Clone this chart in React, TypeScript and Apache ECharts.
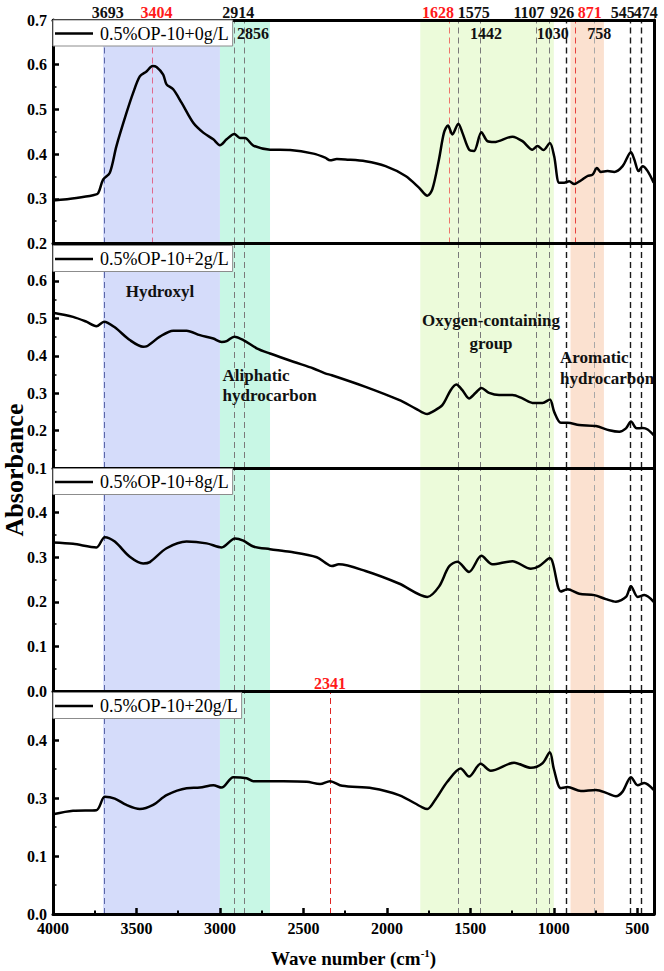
import React, { useEffect, useRef } from "react";
import * as echarts from "echarts";

// ---------------- data ----------------
const seriesNames = ["0.5%OP-10+0g/L", "0.5%OP-10+2g/L", "0.5%OP-10+8g/L", "0.5%OP-10+20g/L"];

const wn0 = [4000, 3860, 3760, 3730, 3700, 3660, 3620, 3560, 3520, 3480, 3440, 3404, 3380, 3340, 3320, 3280, 3230, 3160, 3100, 3040, 3000, 2960, 2914, 2880, 2850, 2800, 2700, 2580, 2440, 2370, 2340, 2300, 2248, 2128, 2008, 1888, 1808, 1758, 1728, 1688, 1658, 1634, 1608, 1572, 1548, 1508, 1478, 1434, 1398, 1358, 1248, 1188, 1128, 1098, 1062, 1024, 998, 968, 938, 908, 878, 838, 798, 768, 742, 718, 678, 638, 588, 538, 518, 492, 468, 438, 402];
const abs0 = [0.296, 0.302, 0.308, 0.312, 0.343, 0.358, 0.418, 0.492, 0.537, 0.574, 0.585, 0.597, 0.595, 0.578, 0.556, 0.545, 0.515, 0.470, 0.448, 0.433, 0.420, 0.433, 0.445, 0.436, 0.436, 0.419, 0.410, 0.409, 0.401, 0.392, 0.386, 0.389, 0.388, 0.384, 0.373, 0.351, 0.325, 0.307, 0.321, 0.388, 0.448, 0.464, 0.444, 0.468, 0.448, 0.410, 0.407, 0.449, 0.429, 0.427, 0.439, 0.429, 0.410, 0.418, 0.409, 0.425, 0.395, 0.336, 0.336, 0.339, 0.333, 0.341, 0.351, 0.354, 0.369, 0.360, 0.362, 0.360, 0.373, 0.404, 0.388, 0.362, 0.373, 0.362, 0.336];

const wn1 = [4000, 3880, 3800, 3740, 3694, 3630, 3540, 3460, 3440, 3360, 3280, 3200, 3120, 3040, 2990, 2960, 2914, 2860, 2780, 2700, 2560, 2440, 2370, 2330, 2128, 1928, 1828, 1758, 1728, 1668, 1618, 1584, 1548, 1508, 1468, 1434, 1388, 1328, 1248, 1188, 1128, 1068, 1024, 998, 958, 918, 848, 748, 668, 608, 568, 538, 504, 468, 438, 402];
const abs1 = [0.515, 0.504, 0.491, 0.479, 0.491, 0.476, 0.442, 0.424, 0.425, 0.451, 0.467, 0.467, 0.455, 0.446, 0.437, 0.439, 0.451, 0.442, 0.420, 0.406, 0.384, 0.366, 0.353, 0.348, 0.317, 0.282, 0.259, 0.244, 0.250, 0.268, 0.308, 0.323, 0.308, 0.286, 0.301, 0.314, 0.301, 0.295, 0.295, 0.286, 0.274, 0.274, 0.283, 0.250, 0.221, 0.221, 0.215, 0.212, 0.201, 0.197, 0.206, 0.224, 0.206, 0.207, 0.203, 0.188];

const wn2 = [4000, 3880, 3740, 3690, 3630, 3540, 3460, 3420, 3320, 3200, 3080, 2990, 2910, 2860, 2800, 2700, 2580, 2420, 2370, 2330, 2288, 2128, 1928, 1758, 1688, 1628, 1578, 1508, 1434, 1368, 1248, 1138, 1088, 1024, 958, 918, 848, 758, 688, 628, 568, 538, 498, 458, 402];
const abs2 = [0.333, 0.330, 0.322, 0.345, 0.335, 0.301, 0.286, 0.289, 0.320, 0.335, 0.331, 0.322, 0.342, 0.337, 0.324, 0.318, 0.312, 0.300, 0.288, 0.280, 0.284, 0.269, 0.241, 0.211, 0.234, 0.279, 0.290, 0.267, 0.303, 0.284, 0.291, 0.274, 0.280, 0.298, 0.223, 0.228, 0.218, 0.215, 0.206, 0.200, 0.211, 0.235, 0.211, 0.215, 0.200];

const wn3 = [4000, 3880, 3740, 3690, 3630, 3560, 3480, 3400, 3320, 3200, 3120, 3040, 2990, 2920, 2840, 2800, 2620, 2480, 2400, 2341, 2268, 2088, 1928, 1788, 1758, 1708, 1638, 1558, 1508, 1438, 1378, 1238, 1138, 1068, 1024, 1000, 958, 918, 838, 748, 678, 628, 588, 538, 498, 458, 402];
const abs3 = [0.272, 0.278, 0.279, 0.302, 0.299, 0.288, 0.281, 0.288, 0.305, 0.317, 0.318, 0.322, 0.318, 0.336, 0.334, 0.329, 0.329, 0.328, 0.324, 0.329, 0.321, 0.317, 0.305, 0.284, 0.281, 0.298, 0.328, 0.351, 0.337, 0.359, 0.347, 0.361, 0.352, 0.360, 0.379, 0.350, 0.317, 0.319, 0.312, 0.314, 0.308, 0.303, 0.311, 0.336, 0.322, 0.326, 0.314];

const wavenumbers = [wn0, wn1, wn2, wn3];
const absorbances = [abs0, abs1, abs2, abs3];

// y ranges of the four panels
const yMins = [0.2, 0.1, 0.0, 0.1];
const yMaxs = [0.7, 0.7, 0.5, 0.4845];
// panel 4 has a broken axis in the original: its tick labels
const panel4TickText: Record<number, string> = { 1: "0.0", 2: "0.1", 3: "0.3", 4: "0.4" };

// x ticks
const xTickValues = [500, 1000, 1500, 2000, 2500, 3000, 3500, 4000];
const xMinorTickValues = [750, 1250, 1750, 2250, 2750, 3250, 3750];

// functional group bands (wavenumber ranges)
const bandFrom = [3700, 3000, 1800, 900];
const bandTo = [3000, 2700, 1000, 700];
const bandColors = ["#d5dcfa", "#c8f7e5", "#ecfbda", "#fbe1d0"];

// characteristic peaks
const allPanelPeaks = [3693, 2914, 2856, 1575, 1442, 1107, 1030, 926, 758, 545, 474];
const firstPanelPeaks = [3404, 1628, 871];
const lastPanelPeaks = [2341];
const redPeaks = [3404, 1628, 871, 2341];
const topRowLabels = [3693, 3404, 2914, 1628, 1575, 1107, 926, 871, 545, 474];
const secondRowLabels = [2856, 1442, 1030, 758];

// ---------------- layout / styles ----------------
const SERIF = '"Liberation Serif", "Times New Roman", serif';
const GRID_TOPS = [20, 243.5, 468, 691];
const GRID_HEIGHTS = [223.5, 224.5, 223, 223];
const LEGEND_TOPS = [20, 245.5, 468.5, 692.5];
const topRowOffsets = [3.5, 4, 4, -11, 16, -7, -4, 14.5, -7, 4];
const secondRowOffsets = [9, 6, 4, 5];

const peakColor = (w: number): string => {
  if (w === 3404) return "#e2688c";
  if (w === 1628) return "#ee7468";
  if (w === 871) return "#e8403e";
  if (w === 2341) return "#e02424";
  if (w === 3693) return "#5b66a8";
  if (w === 926 || w === 545 || w === 474) return "#1a1a1a";
  if (w === 758) return "#a8a8a8";
  return "#7a7a7a";
};

function buildOption(): any {
  const grid = GRID_TOPS.map((t, i) => ({
    left: 53,
    right: 10,
    top: t,
    height: GRID_HEIGHTS[i],
    containLabel: false,
    outerBoundsMode: "none",
  }));

  const xAxis: any[] = [0, 1, 2, 3].map((i) => ({
    type: "value",
    gridIndex: i,
    min: 400,
    max: 4000,
    inverse: true,
    position: "bottom",
    z: 3,
    axisLine: { show: true, onZero: false, lineStyle: { color: "#000", width: 3 } },
    axisTick:
      i === 3
        ? { show: true, inside: true, length: 6, customValues: xTickValues, lineStyle: { color: "#000", width: 2.5 } }
        : { show: false },
    axisLabel:
      i === 3
        ? {
            show: true,
            customValues: xTickValues,
            margin: 6,
            color: "#000",
            fontFamily: SERIF,
            fontWeight: "bold",
            fontSize: 16,
            formatter: (v: number) => String(v),
          }
        : { show: false },
    splitLine: { show: false },
    ...(i === 3
      ? {
          name: "Wave number (cm{s|-1})",
          nameLocation: "middle",
          nameGap: 33,
          nameTextStyle: {
            color: "#000",
            fontFamily: SERIF,
            fontWeight: "bold",
            fontSize: 19,
            lineHeight: 22,
            rich: {
              s: { fontFamily: SERIF, fontWeight: "bold", fontSize: 11, lineHeight: 12, verticalAlign: "top", color: "#000" },
            },
          },
        }
      : {}),
  }));
  xAxis.push({
    type: "value",
    gridIndex: 0,
    min: 400,
    max: 4000,
    inverse: true,
    position: "top",
    z: 3,
    axisLine: { show: true, onZero: false, lineStyle: { color: "#000", width: 3 } },
    axisTick: { show: false },
    axisLabel: { show: false },
    splitLine: { show: false },
  });
  xAxis.push({
    type: "value",
    gridIndex: 3,
    min: 400,
    max: 4000,
    inverse: true,
    position: "bottom",
    z: 3,
    axisLine: { show: false },
    axisTick: { show: true, inside: true, length: 3.5, customValues: xMinorTickValues, lineStyle: { color: "#000", width: 2 } },
    axisLabel: { show: false },
    splitLine: { show: false },
  });

  const yAxis: any[] = [0, 1, 2, 3].map((i) => ({
    type: "value",
    gridIndex: i,
    min: yMins[i],
    max: yMaxs[i],
    interval: 0.1,
    position: "left",
    z: 3,
    axisLine: { show: true, onZero: false, lineStyle: { color: "#000", width: 3 } },
    axisTick: { show: true, inside: true, length: 6, lineStyle: { color: "#000", width: 2.5 } },
    minorTick: { show: true, splitNumber: 2, length: 3.5, lineStyle: { color: "#000", width: 1.5 } },
    axisLabel: {
      show: true,
      showMaxLabel: i === 0,
      margin: 6,
      color: "#000",
      fontFamily: SERIF,
      fontWeight: "bold",
      fontSize: 16,
      formatter: (v: number) => (i === 3 ? panel4TickText[Math.round(v * 10)] ?? "" : v.toFixed(1)),
    },
    splitLine: { show: false },
    minorSplitLine: { show: false },
  }));
  [0, 1, 2, 3].forEach((i) =>
    yAxis.push({
      type: "value",
      gridIndex: i,
      min: yMins[i],
      max: yMaxs[i],
      position: "right",
      z: 3,
      axisLine: { show: true, onZero: false, lineStyle: { color: "#000", width: 3 } },
      axisTick: { show: false },
      axisLabel: { show: false },
      splitLine: { show: false },
    })
  );

  const peakLine = (w: number) => ({
    xAxis: w,
    lineStyle: {
      color: peakColor(w),
      type: [6, 4],
      width: peakColor(w) === "#1a1a1a" ? 1.4 : 1,
    },
  });

  const series: any[] = [0, 1, 2, 3].map((i) => {
    const peaks = allPanelPeaks
      .concat(i === 0 ? firstPanelPeaks : [])
      .concat(i === 3 ? lastPanelPeaks : []);
    return {
      type: "line",
      name: seriesNames[i],
      xAxisIndex: i,
      yAxisIndex: i,
      data: wavenumbers[i].map((w, k) => [w, absorbances[i][k]]),
      symbol: "none",
      smooth: 0.3,
      z: 3,
      lineStyle: { color: "#000", width: 2.5 },
      itemStyle: { color: "#000" },
      markArea: {
        silent: true,
        data: bandFrom.map((f, k) => [
          { xAxis: f, itemStyle: { color: bandColors[k], opacity: 1 } },
          { xAxis: bandTo[k] },
        ]),
      },
      markLine: {
        silent: true,
        symbol: ["none", "none"],
        label: { show: false },
        z: 2,
        data: peaks.map(peakLine),
      },
    };
  });

  const legend = seriesNames.map((n, i) => ({
    data: [{ name: n, icon: "rect", itemStyle: { color: "#000", borderWidth: 0 } }],
    left: 53,
    top: LEGEND_TOPS[i],
    orient: "horizontal",
    backgroundColor: "#fff",
    borderColor: "#8c8c8c",
    borderWidth: 1,
    padding: [4, 4, 3, 2],
    itemWidth: 38,
    itemHeight: 2.5,
    itemGap: 0,
    selectedMode: false,
    z: 6,
    textStyle: { color: "#000", fontFamily: SERIF, fontSize: 18, lineHeight: 19, padding: [0, 0, 0, 2] },
  }));

  return { animation: false, backgroundColor: "#fff", grid, xAxis, yAxis, series, legend };
}

export default function App() {
  const ref = useRef<HTMLDivElement>(null);
  useEffect(() => {
    if (!ref.current) return;
    const chart = echarts.init(ref.current, undefined, { renderer: "svg" });
    chart.setOption(buildOption());
    const px = (w: number) => chart.convertToPixel({ xAxisIndex: 0 }, w) as number;
    const font16 = `bold 16px ${SERIF}`;
    const font17 = `bold 17px ${SERIF}`;
    const graphic: any[] = [];
    topRowLabels.forEach((w, k) =>
      graphic.push({
        type: "text",
        x: px(w) + topRowOffsets[k],
        y: 12.5,
        z: 20,
        style: { text: String(w), font: font16, fill: redPeaks.includes(w) ? "#ff1a1a" : "#111", align: "center", verticalAlign: "middle" },
      })
    );
    secondRowLabels.forEach((w, k) =>
      graphic.push({
        type: "text",
        x: px(w) + secondRowOffsets[k],
        y: 33,
        z: 20,
        style: { text: String(w), font: font16, fill: "#111", align: "center", verticalAlign: "middle" },
      })
    );
    lastPanelPeaks.forEach((w) =>
      graphic.push({
        type: "text",
        x: px(w),
        y: 683,
        z: 20,
        style: { text: String(w), font: font16, fill: "#ff1a1a", align: "center", verticalAlign: "middle" },
      })
    );
    graphic.push(
      { type: "text", x: 160, y: 291.7, z: 2, style: { text: "Hydroxyl", font: font17, fill: "#111", align: "center", verticalAlign: "middle" } },
      { type: "text", x: 222.5, y: 385.7, z: 2, style: { text: "Aliphatic\nhydrocarbon", font: font17, lineHeight: 20, fill: "#111", align: "left", verticalAlign: "middle" } },
      { type: "text", x: 491, y: 332, z: 2, style: { text: "Oxygen-containing\ngroup", font: font17, lineHeight: 22.6, fill: "#111", align: "center", verticalAlign: "middle" } },
      { type: "text", x: 560, y: 368.3, z: 2, style: { text: "Aromatic\nhydrocarbon", font: font17, lineHeight: 21.3, fill: "#111", align: "left", verticalAlign: "middle" } },
      { type: "text", x: 14, y: 470, rotation: Math.PI / 2, z: 20, style: { text: "Absorbance", font: `bold 26px ${SERIF}`, fill: "#000", align: "center", verticalAlign: "middle" } }
    );
    chart.setOption({ graphic });
    return () => chart.dispose();
  }, []);
  return <div ref={ref} style={{ position: "fixed", left: 0, top: 0, width: 664, height: 971 }} />;
}
